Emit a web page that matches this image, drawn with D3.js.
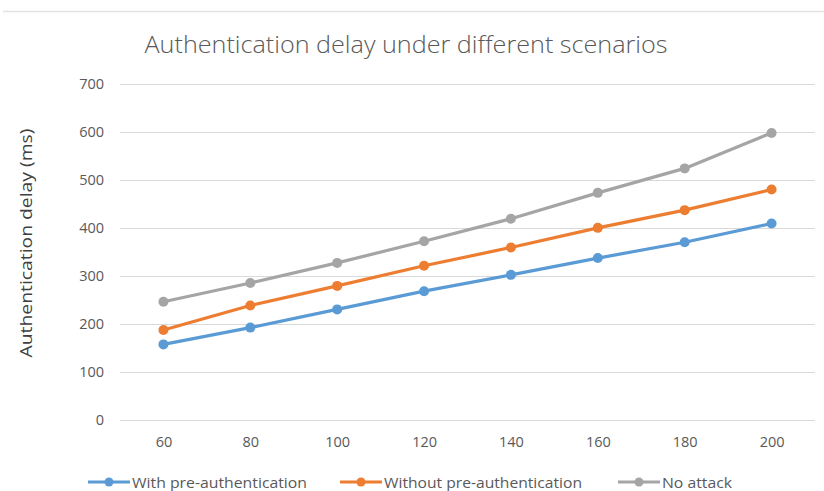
<!DOCTYPE html>
<html>
<head>
<meta charset="utf-8">
<script src="https://cdn.jsdelivr.net/npm/d3@7"></script>
<style>
  body { margin: 0; background: #fff; }
  text { font-family: "Open Sans", "Noto Sans", sans-serif; fill: #595959; }
</style>
</head>
<body>
<div id="chart"></div>
<script>
// chart data
const categories = [60, 80, 100, 120, 140, 160, 180, 200];
const withPreAuth = [157, 192, 230, 268, 302, 337, 370, 409];
const withoutPreAuth = [187, 238, 279, 321, 359, 400, 437, 480];
const noAttack = [246, 285, 327, 372, 419, 473, 524, 598];
const yTicks = [0, 100, 200, 300, 400, 500, 600, 700];
const seriesNames = ['With pre-authentication', 'Without pre-authentication', 'No attack'];

const series = [
    { name: seriesNames[0], values: withPreAuth, color: '#5B9BD5' },
    { name: seriesNames[1], values: withoutPreAuth, color: '#ED7D31' },
    { name: seriesNames[2], values: noAttack, color: '#A5A5A5' }
];

const width = 824;
const height = 491;
const margin = { top: 84, right: 9, bottom: 71, left: 120 };

const svg = d3.select('#chart').append('svg')
    .attr('width', width)
    .attr('height', height);

// thin border line at the top
svg.append('line')
    .attr('x1', 3).attr('x2', width)
    .attr('y1', 11.5).attr('y2', 11.5)
    .style('stroke', '#e3e3e3')
    .style('stroke-width', 1.5);

const x = d3.scalePoint()
    .domain(categories)
    .range([margin.left, width - margin.right])
    .padding(0.5);

const y = d3.scaleLinear()
    .domain([0, 700])
    .range([height - margin.bottom - 0.3, margin.top]);

// gridlines
svg.append('g')
    .selectAll('line')
    .data(yTicks)
    .join('line')
    .attr('x1', margin.left)
    .attr('x2', width - margin.right)
    .attr('y1', d => Math.round(y(d)) + 0.5)
    .attr('y2', d => Math.round(y(d)) + 0.5)
    .style('stroke', '#d9d9d9')
    .style('stroke-width', 1);

// y axis labels
const yAxis = svg.append('g')
    .attr('transform', 'translate(' + margin.left + ',0)')
    .call(d3.axisLeft(y).tickValues(yTicks).tickSize(0).tickPadding(16));
yAxis.select('.domain').remove();
yAxis.selectAll('text')
    .style('font-size', '14.5px')
    .style('fill', '#595959')
    .style('font-family', '"Open Sans", sans-serif');

// x axis labels
const xAxis = svg.append('g')
    .attr('transform', 'translate(0,' + (height - margin.bottom) + ')')
    .call(d3.axisBottom(x).tickSize(0).tickPadding(17));
xAxis.select('.domain').remove();
xAxis.selectAll('text')
    .style('font-size', '14.5px')
    .style('fill', '#595959')
    .style('font-family', '"Open Sans", sans-serif');

// lines and markers
const line = d3.line()
    .x((d, i) => x(categories[i]))
    .y(d => y(d));

series.forEach(s => {
    svg.append('path')
        .datum(s.values)
        .attr('d', line)
        .style('fill', 'none')
        .style('stroke', s.color)
        .style('stroke-width', 3.2)
        .style('stroke-linejoin', 'round');

    svg.append('g')
        .selectAll('circle')
        .data(s.values)
        .join('circle')
        .attr('cx', (d, i) => x(categories[i]))
        .attr('cy', d => y(d))
        .attr('r', 5)
        .style('fill', s.color);
});

// title
svg.append('text')
    .attr('x', 406)
    .attr('y', 53)
    .attr('text-anchor', 'middle')
    .attr('textLength', 523)
    .attr('lengthAdjust', 'spacingAndGlyphs')
    .style('font-size', '24px')
    .style('font-weight', 300)
    .text('Authentication delay under different scenarios');

// y axis title
svg.append('text')
    .attr('transform', 'translate(32,243) rotate(-90)')
    .attr('text-anchor', 'middle')
    .attr('textLength', 229)
    .attr('lengthAdjust', 'spacingAndGlyphs')
    .style('font-size', '17px')
    .style('fill', '#404040')
    .text('Authentication delay (ms)');

// legend
const legendX = [88, 340, 618];
const legendW = [175, 198, 70];
const legend = svg.append('g')
    .selectAll('g')
    .data(series)
    .join('g')
    .attr('transform', (d, i) => 'translate(' + legendX[i] + ',482)');

legend.append('line')
    .attr('x1', 0).attr('x2', 42)
    .attr('y1', 0).attr('y2', 0)
    .style('stroke', d => d.color)
    .style('stroke-width', 3.2);

legend.append('circle')
    .attr('cx', 21)
    .attr('cy', 0)
    .attr('r', 4.5)
    .style('fill', d => d.color);

legend.append('text')
    .attr('x', 44)
    .attr('y', 5.5)
    .attr('textLength', (d, i) => legendW[i])
    .attr('lengthAdjust', 'spacingAndGlyphs')
    .style('font-size', '15px')
    .text(d => d.name);
</script>
</body>
</html>
